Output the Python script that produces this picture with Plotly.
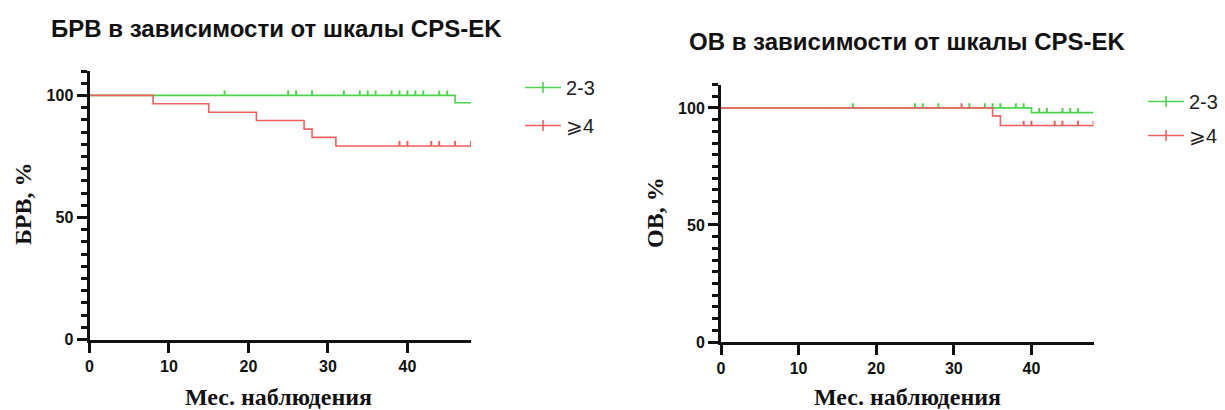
import numpy as np
import plotly.graph_objects as go

W, H = 1225, 410

# ---------------- data ----------------
# Left panel: БРВ (PFS)
pfs_23_t = [0, 46, 48]
pfs_23_s = [100, 97.0, 97.0]
pfs_23_cens = [17, 25, 26, 28, 32, 34, 35, 36, 38, 39, 40, 41, 42, 44, 45]

pfs_4_t = [0, 8, 15, 21, 27, 28, 31, 48]
pfs_4_s = [100, 96.6, 93.1, 89.7, 86.2, 82.8, 79.3, 79.3]
pfs_4_cens = [39, 40, 43, 44, 46, 48]

# Right panel: ОВ (OS)
os_23_t = [0, 40, 48]
os_23_s = [100, 98.0, 98.0]
os_23_cens = [17, 25, 26, 28, 32, 34, 35, 36, 38, 39, 41, 42, 44, 45, 46]

os_4_t = [0, 35, 36, 48]
os_4_s = [100, 96.6, 92.5, 92.5]
os_4_cens = [31, 39, 40, 43, 44, 46, 48]

group_labels = ["2-3", "⩾4"]
x_ticks = [0, 10, 20, 30, 40]
y_ticks = [0, 50, 100]

GREEN = "#4FD44F"
RED = "#EE6060"
AX = "#111111"


def step_value(t, s, x):
    idx = np.searchsorted(np.asarray(t, dtype=float), np.asarray(x, dtype=float), side="right") - 1
    return list(np.asarray(s, dtype=float)[idx])


def px_x(p):
    return p / W


def px_y(p):
    return 1 - p / H


fig = go.Figure()


def add_curve(t, s, cens, color, xa, ya):
    fig.add_trace(go.Scatter(
        x=t, y=s, mode="lines", line=dict(color=color, width=1.6, shape="hv"),
        xaxis=xa, yaxis=ya, showlegend=False, hoverinfo="skip", cliponaxis=False))
    cy = step_value(t, s, cens)
    fig.add_trace(go.Scatter(
        x=cens, y=cy, mode="markers",
        marker=dict(size=1, color="rgba(0,0,0,0)"),
        error_y=dict(type="data", symmetric=False, array=[2.0] * len(cens),
                     arrayminus=[0] * len(cens), width=0, thickness=2, color=color),
        xaxis=xa, yaxis=ya, showlegend=False, hoverinfo="skip", cliponaxis=False))


def add_legend_entry(name, color, legend, group):
    fig.add_trace(go.Scatter(
        x=[None], y=[None], mode="lines+markers", name=name,
        line=dict(color=color, width=1.6),
        marker=dict(symbol="line-ns", size=8, line=dict(color=color, width=1.6)),
        legend=legend, legendgroup=group, xaxis="x", yaxis="y"))


add_curve(pfs_23_t, pfs_23_s, pfs_23_cens, GREEN, "x", "y")
add_curve(pfs_4_t, pfs_4_s, pfs_4_cens, RED, "x", "y")
add_curve(os_23_t, os_23_s, os_23_cens, GREEN, "x2", "y2")
add_curve(os_4_t, os_4_s, os_4_cens, RED, "x2", "y2")

add_legend_entry(group_labels[0], GREEN, "legend", "a1")
add_legend_entry(group_labels[1], RED, "legend", "a2")
add_legend_entry(group_labels[0], GREEN, "legend2", "b1")
add_legend_entry(group_labels[1], RED, "legend2", "b2")

tickfont = dict(family="Liberation Sans, Arial, sans-serif", size=16, color=AX, weight="bold")

xcommon = dict(range=[0, 48], tickvals=x_ticks, ticks="outside", ticklen=10, tickwidth=3,
               tickcolor=AX, showline=True, linewidth=3, linecolor=AX, showgrid=False,
               zeroline=False, tickfont=tickfont, fixedrange=True)
ycommon = dict(range=[0, 110], tickvals=y_ticks, ticks="outside", ticklen=10, tickwidth=2.5,
               tickcolor=AX, showline=True, linewidth=3, linecolor=AX, showgrid=False,
               zeroline=False, tickfont=tickfont, fixedrange=True,
               minor=dict(dtick=5, tick0=0, ticks="outside", ticklen=6, tickwidth=2.5,
                          tickcolor=AX, showgrid=False))

# pixel layout
L_x0, L_x1 = 89.5, 471.0
L_y0, L_y1 = 339.5, 71.0
R_x0, R_x1 = 721.0, 1093.5
R_y0, R_y1 = 342.0, 84.5

legend_font = dict(family="Liberation Sans, Arial, sans-serif", size=20, color="#222")

fig.update_layout(
    width=W, height=H,
    margin=dict(l=0, r=0, t=0, b=0, autoexpand=False),
    paper_bgcolor="white", plot_bgcolor="white",
    xaxis=dict(domain=[px_x(L_x0), px_x(L_x1)], anchor="y", **xcommon),
    yaxis=dict(domain=[px_y(L_y0), px_y(L_y1)], anchor="x", **ycommon),
    xaxis2=dict(domain=[px_x(R_x0), px_x(R_x1)], anchor="y2", **xcommon),
    yaxis2=dict(domain=[px_y(R_y0), px_y(R_y1)], anchor="x2", **ycommon),
    legend=dict(x=px_x(520), y=px_y(68), xanchor="left", yanchor="top", font=legend_font,
                bgcolor="rgba(0,0,0,0)", traceorder="grouped", tracegroupgap=9,
                itemwidth=36),
    legend2=dict(x=px_x(1143), y=px_y(82), xanchor="left", yanchor="top", font=legend_font,
                 bgcolor="rgba(0,0,0,0)", traceorder="grouped", tracegroupgap=5,
                 itemwidth=36),
)

title_font = dict(family="Liberation Sans, Arial, sans-serif", size=24, color=AX, weight="bold")
axis_title_font = dict(family="Liberation Serif, Times New Roman, serif", size=24, color=AX,
                       weight="bold")

annotations = [
    dict(text="БРВ в зависимости от шкалы CPS-EK", x=px_x(276), y=px_y(28), font=title_font),
    dict(text="ОВ в зависимости от шкалы CPS-EK", x=px_x(907), y=px_y(42), font=title_font),
    dict(text="БРВ, %", x=px_x(23), y=px_y(204), textangle=-90, font=axis_title_font),
    dict(text="ОВ, %", x=px_x(655), y=px_y(213), textangle=-90, font=axis_title_font),
    dict(text="Мес. наблюдения", x=px_x(278), y=px_y(397), font=axis_title_font),
    dict(text="Мес. наблюдения", x=px_x(907), y=px_y(397), font=axis_title_font),
]
for a in annotations:
    fig.add_annotation(xref="paper", yref="paper", xanchor="center", yanchor="middle",
                       showarrow=False, **a)

fig.write_html("out.html", config={"displayModeBar": False},
               post_script="document.body.style.margin='0';document.body.style.overflow='hidden';")
